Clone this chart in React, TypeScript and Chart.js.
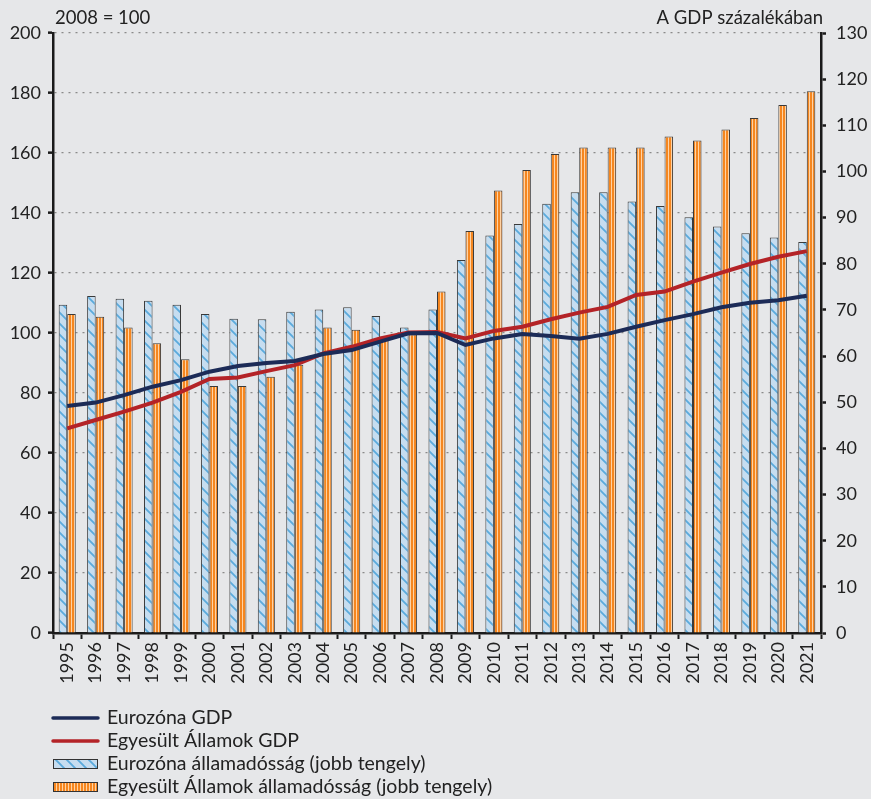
import React, { useEffect, useRef } from "react";
import { Chart, registerables } from "chart.js";

Chart.register(...registerables);

const years = [
  "1995", "1996", "1997", "1998", "1999", "2000", "2001", "2002", "2003", "2004",
  "2005", "2006", "2007", "2008", "2009", "2010", "2011", "2012", "2013", "2014",
  "2015", "2016", "2017", "2018", "2019", "2020", "2021",
];

// Left axis (2008 = 100)
const euroGdp = [
  75.7, 76.8, 79.3, 82.1, 84.3, 87.1, 89.0, 90.0, 90.7, 93.0,
  94.3, 97.1, 99.9, 100.0, 96.0, 98.2, 99.7, 99.0, 98.1, 99.7,
  102.1, 104.3, 106.3, 108.6, 110.1, 110.9, 112.4,
];
const usGdp = [
  68.2, 71.0, 73.8, 76.8, 80.4, 84.7, 85.2, 87.3, 89.3, 93.2,
  95.4, 98.2, 100.2, 100.3, 98.2, 100.7, 102.1, 104.6, 106.8, 108.7,
  112.7, 113.8, 117.1, 120.1, 123.0, 125.4, 127.3,
];

// Right axis (% of GDP)
const euroDebt = [
  71.1, 73.0, 72.4, 72.0, 71.1, 69.1, 68.1, 68.0, 69.6, 70.1,
  70.6, 68.7, 66.2, 70.1, 80.8, 86.1, 88.6, 93.0, 95.5, 95.5,
  93.5, 92.5, 90.1, 88.1, 86.6, 85.7, 84.7,
];
const usDebt = [
  69.1, 68.5, 66.2, 62.8, 59.3, 53.5, 53.5, 55.5, 58.1, 66.2,
  65.7, 63.8, 64.7, 74.0, 87.1, 95.9, 100.3, 103.8, 105.2, 105.2,
  105.2, 107.6, 106.7, 109.1, 111.6, 114.4, 117.4,
];

const seriesLabels = [
  "Eurozóna GDP",
  "Egyesült Államok GDP",
  "Eurozóna államadósság (jobb tengely)",
  "Egyesült Államok államadósság (jobb tengely)",
];

const leftTitle = "2008 = 100";
const rightTitle = "A GDP százalékában";

const FONT = "Lato, 'Open Sans', sans-serif";
const BG = "#E6E7E9";
const NAVY = "#1C2B57";
const RED = "#B42327";

function makeBluePattern(): CanvasPattern | string {
  const c = document.createElement("canvas");
  const s = 11;
  c.width = s;
  c.height = s;
  const g = c.getContext("2d");
  if (!g) return "#C6DDF0";
  g.fillStyle = "#C6DDF0";
  g.fillRect(0, 0, s, s);
  g.strokeStyle = "#5AAADC";
  g.lineWidth = 1.8;
  g.beginPath();
  g.moveTo(-1, -1);
  g.lineTo(s + 1, s + 1);
  g.moveTo(s - 2, -2);
  g.lineTo(s + 2, 2);
  g.moveTo(-2, s - 2);
  g.lineTo(2, s + 2);
  g.stroke();
  return g.createPattern(c, "repeat") || "#C6DDF0";
}

function makeOrangePattern(): CanvasPattern | string {
  const c = document.createElement("canvas");
  c.width = 3;
  c.height = 1;
  const g = c.getContext("2d");
  if (!g) return "#F7931E";
  g.fillStyle = "#F5861F";
  g.fillRect(0, 0, 3, 1);
  g.fillStyle = "#FFD2A3";
  g.fillRect(2, 0, 1, 1);
  return g.createPattern(c, "repeat") || "#F7931E";
}

export default function App() {
  const ref = useRef<HTMLCanvasElement | null>(null);

  useEffect(() => {
    const canvas = ref.current;
    if (!canvas) return;
    const bluePat = makeBluePattern();
    const orangePat = makeOrangePattern();

    const bgPlugin = {
      id: "bg",
      beforeDraw(chart: any) {
        const { ctx, width, height } = chart;
        ctx.save();
        ctx.fillStyle = BG;
        ctx.fillRect(0, 0, width, height);
        ctx.restore();
      },
    };

    const extrasPlugin = {
      id: "extras",
      afterDraw(chart: any) {
        const { ctx, chartArea } = chart;
        ctx.save();
        ctx.fillStyle = "#222";
        ctx.font = `18.5px ${FONT}`;
        ctx.textBaseline = "middle";
        ctx.textAlign = "left";
        ctx.fillText(leftTitle, chartArea.left + 2, 18);
        ctx.textAlign = "right";
        ctx.fillText(rightTitle, chartArea.right + 2, 18);

        // legend
        const rows = [718, 741, 764, 787];
        const x0 = 52;
        const x1 = 99;
        const tx = 107;
        rows.forEach((y, i) => {
          if (i < 2) {
            ctx.strokeStyle = i === 0 ? NAVY : RED;
            ctx.lineWidth = 3.5;
            ctx.lineCap = "round";
            ctx.beginPath();
            ctx.moveTo(x0 + 1, y);
            ctx.lineTo(x1 - 1, y);
            ctx.stroke();
          } else {
            ctx.fillStyle = i === 2 ? bluePat : orangePat;
            ctx.fillRect(x0 + 1, y - 5, x1 - x0 - 2, 10);
            ctx.strokeStyle = "#333";
            ctx.lineWidth = 1;
            ctx.strokeRect(x0 + 1.5, y - 4.5, x1 - x0 - 3, 9);
          }
          ctx.fillStyle = "#222";
          ctx.font = `19.5px ${FONT}`;
          ctx.textAlign = "left";
          ctx.textBaseline = "middle";
          ctx.fillText(seriesLabels[i], tx, y);
        });
        ctx.restore();
      },
    };

    const chart = new Chart(canvas, {
      type: "bar",
      data: {
        labels: years,
        datasets: [
          {
            type: "line",
            label: seriesLabels[0],
            data: euroGdp,
            yAxisID: "y",
            borderColor: NAVY,
            backgroundColor: NAVY,
            borderWidth: 4,
            pointRadius: 0,
            tension: 0,
            order: 0,
          } as any,
          {
            type: "line",
            label: seriesLabels[1],
            data: usGdp,
            yAxisID: "y",
            borderColor: RED,
            backgroundColor: RED,
            borderWidth: 4,
            pointRadius: 0,
            tension: 0,
            order: 1,
          } as any,
          {
            type: "bar",
            label: seriesLabels[2],
            data: euroDebt,
            yAxisID: "y1",
            backgroundColor: bluePat,
            borderColor: "#3A3A3A",
            borderWidth: 1,
            barPercentage: 1,
            categoryPercentage: 0.6,
            order: 2,
          } as any,
          {
            type: "bar",
            label: seriesLabels[3],
            data: usDebt,
            yAxisID: "y1",
            backgroundColor: orangePat,
            borderColor: "#3A3A3A",
            borderWidth: 1,
            barPercentage: 1,
            categoryPercentage: 0.6,
            order: 3,
          } as any,
        ],
      },
      options: {
        responsive: false,
        animation: false,
        devicePixelRatio: 1,
        layout: { padding: { top: 33, left: 0, right: 0, bottom: 0 } },
        plugins: {
          legend: { display: false },
          tooltip: { enabled: false },
        },
        scales: {
          x: {
            type: "category",
            offset: true,
            grid: {
              offset: true,
              drawOnChartArea: false,
              drawTicks: true,
              tickLength: 6,
              tickColor: "#1a1a1a",
              tickWidth: 2,
            },
            border: { display: true, color: "#1a1a1a", width: 2.5 },
            ticks: {
              autoSkip: false,
              minRotation: 90,
              maxRotation: 90,
              padding: 3,
              color: "#222",
              font: { family: FONT, size: 18 },
            },
            afterFit(scale: any) {
              scale.height = 166;
            },
          },
          y: {
            type: "linear",
            position: "left",
            min: 0,
            max: 200,
            ticks: {
              stepSize: 20,
              padding: 7,
              color: "#222",
              font: { family: FONT, size: 18 },
            },
            grid: {
              color: "#8a8a8a",
              lineWidth: 1.3,
              drawTicks: true,
              tickLength: 5,
              tickColor: "#1a1a1a",
              tickWidth: 2.5,
              tickBorderDash: [],
            },
            border: { display: true, color: "#1a1a1a", width: 2.5, dash: [2, 5] },
            afterFit(scale: any) {
              scale.width = 53;
            },
          },
          y1: {
            type: "linear",
            position: "right",
            min: 0,
            max: 130,
            ticks: {
              stepSize: 10,
              padding: 10,
              color: "#222",
              font: { family: FONT, size: 18 },
            },
            grid: {
              drawOnChartArea: false,
              drawTicks: true,
              tickLength: 5,
              color: "#1a1a1a",
              tickColor: "#1a1a1a",
              tickWidth: 2.5,
            },
            border: { display: true, color: "#1a1a1a", width: 2.5 },
            afterFit(scale: any) {
              scale.width = 50;
            },
          },
        },
      } as any,
      plugins: [bgPlugin, extrasPlugin],
    });

    return () => chart.destroy();
  }, []);

  return (
    <div
      style={{
        position: "fixed",
        left: 0,
        top: 0,
        width: 871,
        height: 799,
        background: BG,
      }}
    >
      <canvas ref={ref} width={871} height={799} style={{ width: 871, height: 799, display: "block" }} />
    </div>
  );
}
